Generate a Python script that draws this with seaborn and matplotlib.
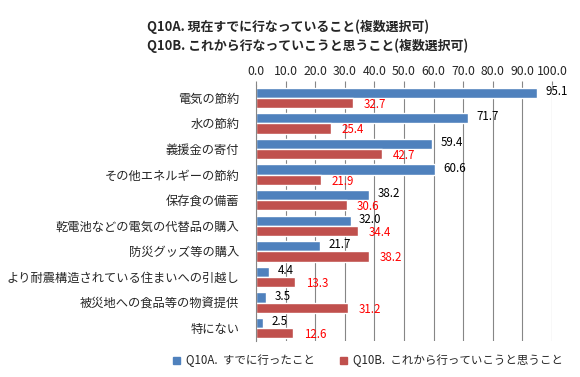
import matplotlib
matplotlib.use("Agg")
import matplotlib.pyplot as plt
import seaborn as sns
import pandas as pd
from matplotlib.patches import Patch

categories = ["電気の節約", "水の節約", "義援金の寄付", "その他エネルギーの節約", "保存食の備蓄",
              "乾電池などの電気の代替品の購入", "防災グッズ等の購入",
              "より耐震構造されている住まいへの引越し", "被災地への食品等の物資提供", "特にない"]
q10a = [95.1, 71.7, 59.4, 60.6, 38.2, 32.0, 21.7, 4.4, 3.5, 2.5]
q10b = [32.7, 25.4, 42.7, 21.9, 30.6, 34.4, 38.2, 13.3, 31.2, 12.6]
series = ["Q10A.  すでに行ったこと", "Q10B.  これから行っていこうと思うこと"]
ticks = [0, 10, 20, 30, 40, 50, 60, 70, 80, 90, 100]
title_lines = ["Q10A. 現在すでに行なっていること(複数選択可)", "Q10B. これから行なっていこうと思うこと(複数選択可)"]

sns.set_style("white")
plt.rcParams['font.family'] = ['Noto Sans CJK JP', 'DejaVu Sans']

df = pd.DataFrame({
    "cat": categories * 2,
    "val": q10a + q10b,
    "series": [series[0]] * len(categories) + [series[1]] * len(categories),
})

colors = ["#4F81BD", "#C0504D"]
fig = plt.figure(figsize=(5.8, 3.77), dpi=100)
W, H = 580, 377
ax = fig.add_axes([256 / W, 1 - 341 / H, (552 - 256) / W, (341 - 85) / H])

sns.barplot(data=df, y="cat", x="val", hue="series", hue_order=series, order=categories,
            palette=colors, orient="h", width=0.8, ax=ax, legend=False, saturation=1)

ax.set_xlim(0, 100)
ax.set_ylim(len(categories) - 0.5, -0.5)
ax.set_xticks(ticks)
ax.set_xticklabels([f"{t:.1f}" for t in ticks], fontsize=8.8)
ax.xaxis.tick_top()
ax.tick_params(axis="x", length=3, pad=2, color="#868686", top=True, bottom=False)
ax.tick_params(axis="y", length=0, pad=12, labelsize=8.8)
ax.set_xlabel("")
ax.set_ylabel("")
ax.grid(axis="x", color="#868686", linewidth=0.8)
ax.set_axisbelow(True)
for s in ["top", "right", "bottom"]:
    ax.spines[s].set_visible(False)
ax.spines["left"].set_color("#868686")
ax.spines["left"].set_linewidth(0.8)

# value labels
for container, vals, col, off in zip(ax.containers, [q10a, q10b], ["black", "#FF0000"],
                                     [(6, 1.0), (7.5, -1.0)]):
    for patch, v in zip(container.patches, vals):
        ax.annotate(f"{v:.1f}", (patch.get_width(), patch.get_y() + patch.get_height() / 2),
                    xytext=off, textcoords="offset points", fontsize=8.3, color=col,
                    ha="left", va="center")

# title
fig.text(147 / W, 1 - 27 / H, title_lines[0], fontsize=9.3, fontweight="bold", va="center", ha="left")
fig.text(147 / W, 1 - 46 / H, title_lines[1], fontsize=9.3, fontweight="bold", va="center", ha="left")

handles = [Patch(facecolor=c, edgecolor=c) for c in colors]
fig.legend(handles, series, loc="center", bbox_to_anchor=(368 / W, 1 - 361 / H), ncol=2,
           frameon=False, fontsize=8.3, handlelength=0.6, handleheight=0.6, handletextpad=0.5,
           columnspacing=2.2)

fig.savefig("out.png", dpi=100)
